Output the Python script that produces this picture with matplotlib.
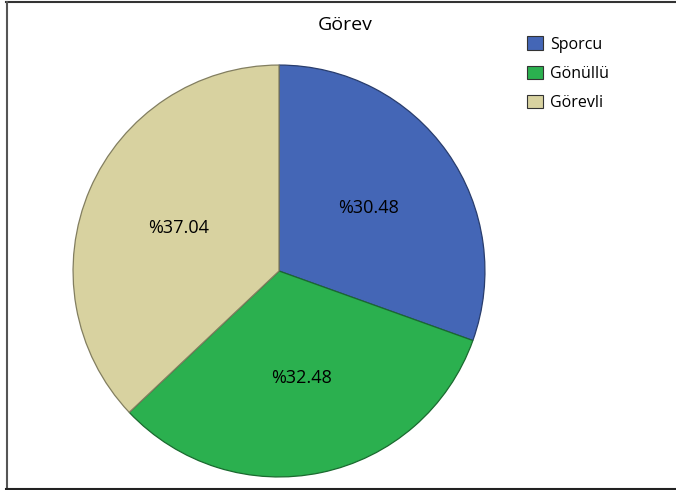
import matplotlib
matplotlib.use('Agg')
import matplotlib.pyplot as plt
from matplotlib.colors import to_rgb
from matplotlib.lines import Line2D
from matplotlib.patches import Patch

labels = ['Sporcu', 'Gönüllü', 'Görevli']
shares = [30.48, 32.48, 37.04]
colors = ['#4466B6', '#2BB04F', '#D8D2A0']
title = 'Görev'

plt.rcParams['font.family'] = ['Open Sans', 'DejaVu Sans']


def darker(c, f=0.6):
    r, g, b = to_rgb(c)
    return (r * f, g * f, b * f)


fig = plt.figure(figsize=(6.76, 4.90), dpi=100, facecolor='white')
ax = fig.add_axes([71 / 676, 11 / 490, 416 / 676, 416 / 490])
wedges, texts, autotexts = ax.pie(
    shares, colors=colors, startangle=90, counterclock=False,
    autopct=lambda p: f'%{p:.2f}', pctdistance=0.53, radius=1.0,
    wedgeprops=dict(linewidth=0.9), textprops=dict(fontsize=13, color='black'))
for w, c in zip(wedges, colors):
    w.set_edgecolor(darker(c))
ax.set_xlim(-1.01, 1.01)
ax.set_ylim(-1.01, 1.01)
ax.set_aspect('equal')
ax.axis('off')

fig.text(345 / 676, 1 - 25 / 490, title, ha='center', va='center', fontsize=14)

handles = [Patch(facecolor=c, edgecolor='#333333', linewidth=0.8, label=l)
           for c, l in zip(colors, labels)]
fig.legend(handles=handles, loc='upper left', bbox_to_anchor=(521 / 676, 1 - 30 / 490),
           frameon=False, fontsize=11.5, handlelength=0.95, handleheight=0.95,
           handletextpad=0.45, labelspacing=0.8, borderaxespad=0)

# frame around the figure (top, left, bottom)
fig.add_artist(Line2D([6 / 676, 1], [1 - 2.5 / 490] * 2, transform=fig.transFigure,
                      color='#333333', linewidth=1.5))
fig.add_artist(Line2D([6.5 / 676] * 2, [1.5 / 490, 1 - 2.5 / 490], transform=fig.transFigure,
                      color='#555555', linewidth=1.5))
fig.add_artist(Line2D([6 / 676, 1], [1.5 / 490] * 2, transform=fig.transFigure,
                      color='#222222', linewidth=1.5))

fig.savefig('out.png', dpi=100, facecolor='white')
